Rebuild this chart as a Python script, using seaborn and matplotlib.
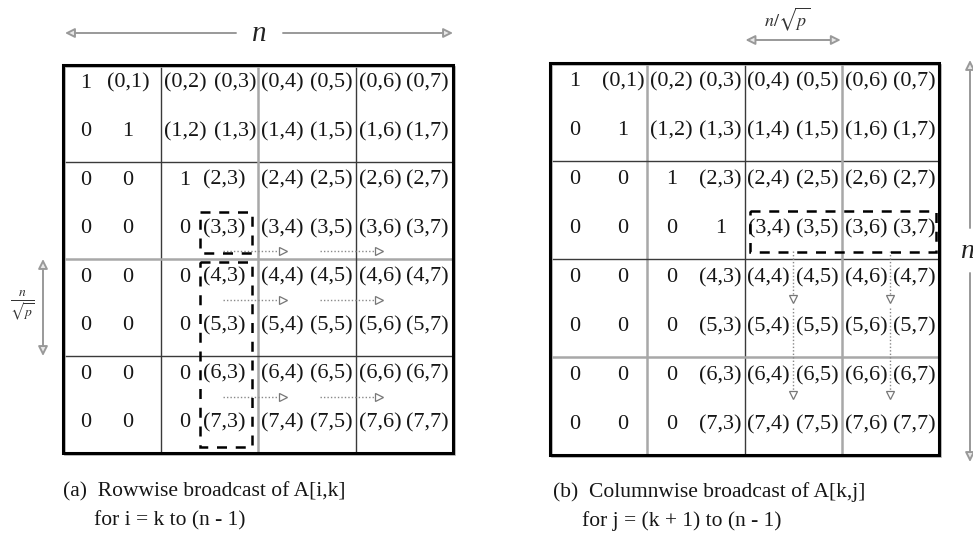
import matplotlib
matplotlib.use("Agg")
import matplotlib.pyplot as plt
import seaborn as sns
from matplotlib.patches import Rectangle

sns.set_theme(style="white")
plt.rcParams['font.family'] = ['Liberation Serif', 'DejaVu Serif']
plt.rcParams['mathtext.fontset'] = 'stix'

# ---------------- data ----------------
left_cells = [
    ["1", "(0,1)", "(0,2)", "(0,3)", "(0,4)", "(0,5)", "(0,6)", "(0,7)"],
    ["0", "1", "(1,2)", "(1,3)", "(1,4)", "(1,5)", "(1,6)", "(1,7)"],
    ["0", "0", "1", "(2,3)", "(2,4)", "(2,5)", "(2,6)", "(2,7)"],
    ["0", "0", "0", "(3,3)", "(3,4)", "(3,5)", "(3,6)", "(3,7)"],
    ["0", "0", "0", "(4,3)", "(4,4)", "(4,5)", "(4,6)", "(4,7)"],
    ["0", "0", "0", "(5,3)", "(5,4)", "(5,5)", "(5,6)", "(5,7)"],
    ["0", "0", "0", "(6,3)", "(6,4)", "(6,5)", "(6,6)", "(6,7)"],
    ["0", "0", "0", "(7,3)", "(7,4)", "(7,5)", "(7,6)", "(7,7)"],
]
right_cells = [
    ["1", "(0,1)", "(0,2)", "(0,3)", "(0,4)", "(0,5)", "(0,6)", "(0,7)"],
    ["0", "1", "(1,2)", "(1,3)", "(1,4)", "(1,5)", "(1,6)", "(1,7)"],
    ["0", "0", "1", "(2,3)", "(2,4)", "(2,5)", "(2,6)", "(2,7)"],
    ["0", "0", "0", "1", "(3,4)", "(3,5)", "(3,6)", "(3,7)"],
    ["0", "0", "0", "(4,3)", "(4,4)", "(4,5)", "(4,6)", "(4,7)"],
    ["0", "0", "0", "(5,3)", "(5,4)", "(5,5)", "(5,6)", "(5,7)"],
    ["0", "0", "0", "(6,3)", "(6,4)", "(6,5)", "(6,6)", "(6,7)"],
    ["0", "0", "0", "(7,3)", "(7,4)", "(7,5)", "(7,6)", "(7,7)"],
]
caption_a = ["(a)  Rowwise broadcast of A[i,k]", "for i = k to (n - 1)"]
caption_b = ["(b)  Columnwise broadcast of A[k,j]", "for j = (k + 1) to (n - 1)"]
n_label = "n"
block_label = r"$n/\sqrt{p}$"
block_label_frac = r"$\frac{n}{\sqrt{p}}$"
# broadcast source cells (row k=3)
k = 3

# ---------------- layout ----------------
W, H = 973, 547
fig = plt.figure(figsize=(W / 100, H / 100), dpi=100)
ax = fig.add_axes([0, 0, 1, 1])
ax.set_xlim(0, W)
ax.set_ylim(H, 0)
ax.axis("off")

N = 8
DARK = "#3a3a3a"
GRAY = "#a8a8a8"
FS = 16
TXT = "#161616"

panels = {
    "left": dict(x0=63, x1=453, y0=65, y1=453,
                 vstyle=[DARK, GRAY, DARK], hstyle=[DARK, GRAY, DARK],
                 cells=left_cells),
    "right": dict(x0=550, x1=939, y0=63, y1=455,
                  vstyle=[GRAY, DARK, GRAY], hstyle=[DARK, DARK, GRAY],
                  cells=right_cells),
}

# small per-column nudges of the left panel text (typeset irregularly)
left_nudge = [-2, -8, 0, 2, 0, 0, 0, -1]


def geom(p):
    cw = (p["x1"] - p["x0"]) / N
    rh = (p["y1"] - p["y0"]) / N
    return cw, rh


for name, p in panels.items():
    cw, rh = geom(p)
    x0, x1, y0, y1 = p["x0"], p["x1"], p["y0"], p["y1"]
    # internal block lines
    for b in range(1, 4):
        xv = x0 + b * 2 * cw
        c = p["vstyle"][b - 1]
        ax.plot([xv, xv], [y0, y1], color=c, lw=1.0 if c == DARK else 1.8,
                solid_capstyle="butt", zorder=2)
        yh = y0 + b * 2 * rh
        c = p["hstyle"][b - 1]
        ax.plot([x0, x1], [yh, yh], color=c, lw=1.0 if c == DARK else 1.8,
                solid_capstyle="butt", zorder=2)
    # outer border
    ax.add_patch(Rectangle((x0 + 2, y0 + 2), x1 - x0, y1 - y0, fill=False,
                           ec="#b0b0b0", lw=1.2, zorder=2))
    ax.add_patch(Rectangle((x0, y0), x1 - x0, y1 - y0, fill=False,
                           ec="black", lw=2.2, zorder=3))
    # cell texts
    for i, row in enumerate(p["cells"]):
        for j, s in enumerate(row):
            cx = x0 + (j + 0.5) * cw
            if name == "left":
                cx += left_nudge[j]
                if j == 3 and i >= 2:
                    cx -= 11
            cy = y0 + (i + 0.5) * rh - 6
            ax.text(cx, cy, s, ha="center", va="center", fontsize=FS,
                    color=TXT, zorder=4)

# ---- left panel: dashed boxes around column k, dotted row-wise arrows ----
L = panels["left"]
cw, rh = geom(L)
bx0 = L["x0"] + 3 * cw - 9
bx1 = L["x0"] + 4 * cw - 6
dash = dict(color="black", lw=1.8, ls=(0, (4, 3.5)), zorder=5)
# box around (k,k)
ax.add_patch(Rectangle((bx0, L["y0"] + k * rh + 1), bx1 - bx0, rh - 7,
                       fill=False, **dash))
# box around (k+1..7, k)
ax.add_patch(Rectangle((bx0, L["y0"] + (k + 1) * rh + 3), bx1 - bx0,
                       (N - k - 1) * rh - 9, fill=False, **dash))

arrow_rows_left = [3, 4, 6]          # arrow drawn just below these rows
arrow_spans_left = [(3.28, 4.6), (5.27, 6.56)]   # in column units
for r in arrow_rows_left:
    yy = L["y0"] + (r + 1) * rh - 8
    for a, b in arrow_spans_left:
        xa = L["x0"] + a * cw
        xb = L["x0"] + b * cw
        ax.plot([xa, xb - 6], [yy, yy], color="#888888", lw=1.0, ls=(0, (1, 1.5)),
                zorder=4)
        ax.plot([xb - 4], [yy], marker=">", ms=6, mfc="white", mec="#777777",
                mew=0.9, zorder=5)

# ---- right panel: dashed box around row k, dotted column-wise arrows ----
R = panels["right"]
cw, rh = geom(R)
ax.add_patch(Rectangle((R["x0"] + (k + 1) * cw + 5, R["y0"] + k * rh + 1),
                       (N - k - 1) * cw - 8, rh - 8, fill=False, **dash))
arrow_cols_right = [5, 7]   # arrow drawn on the left edge of these columns
arrow_spans_right = [(k + 1 - 0.16, 5 - 0.1), (5 + 0.0, 7 - 0.14)]  # row units
for c in arrow_cols_right:
    xx = R["x0"] + c * cw
    for a, b in arrow_spans_right:
        ya = R["y0"] + a * rh
        yb = R["y0"] + b * rh
        ax.plot([xx, xx], [ya, yb - 6], color="#888888", lw=1.0,
                ls=(0, (1, 1.5)), zorder=4)
        ax.plot([xx], [yb - 4], marker="v", ms=6, mfc="white", mec="#777777",
                mew=0.9, zorder=5)

# ---------------- dimension arrows ----------------


def half_arrow(p_from, p_to):
    ax.annotate("", xy=p_to, xytext=p_from,
                arrowprops=dict(arrowstyle="-|>", ec="#999999", fc="#e8e8e8",
                                lw=1.4, mutation_scale=14, shrinkA=0, shrinkB=0))


# top "n" arrow over left panel
ty = 33
half_arrow((236, ty), (L["x0"] + 2, ty))
half_arrow((283, ty), (L["x1"], ty))
ax.text(259, ty + 1, n_label, ha="center", va="center", fontsize=21,
        fontstyle="italic", color="#222222")

# left vertical n/sqrt(p) arrow (one block)
lx = 43
by0 = L["y0"] + 4 * geom(L)[1]
by1 = L["y0"] + 6 * geom(L)[1]
ax.annotate("", xy=(lx, by0), xytext=(lx, by1),
            arrowprops=dict(arrowstyle="<|-|>", ec="#999999", fc="#e8e8e8",
                            lw=1.4, mutation_scale=14, shrinkA=0, shrinkB=0))
ax.text(22, (by0 + by1) / 2 - 2, block_label_frac, ha="center", va="center",
        fontsize=14, color="#333333")

# top n/sqrt(p) arrow over right panel (one block)
cwR = geom(R)[0]
ax.annotate("", xy=(R["x0"] + 4 * cwR + 1, 40), xytext=(R["x0"] + 6 * cwR - 1, 40),
            arrowprops=dict(arrowstyle="<|-|>", ec="#999999", fc="#e8e8e8",
                            lw=1.4, mutation_scale=14, shrinkA=0, shrinkB=0))
ax.text(R["x0"] + 5 * cwR - 6, 19, block_label, ha="center", va="center",
        fontsize=13, color="#333333")

# right vertical "n" arrow
rx = 970
half_arrow((rx, 228), (rx, 60))
half_arrow((rx, 273), (rx, 462))
ax.text(rx - 3, 252, n_label, ha="center", va="center", fontsize=20,
        fontstyle="italic", color="#222222")

# ---------------- captions ----------------
cap_fs = 15.5
ax.text(L["x0"], 492, caption_a[0], ha="left", va="center", fontsize=cap_fs,
        color=TXT)
ax.text(L["x0"] + 31, 521, caption_a[1], ha="left", va="center", fontsize=cap_fs,
        color=TXT)
ax.text(R["x0"] + 3, 492, caption_b[0], ha="left", va="center", fontsize=cap_fs,
        color=TXT)
ax.text(R["x0"] + 32, 521, caption_b[1], ha="left", va="center", fontsize=cap_fs,
        color=TXT)

fig.savefig("out.png", dpi=100, facecolor="white")
